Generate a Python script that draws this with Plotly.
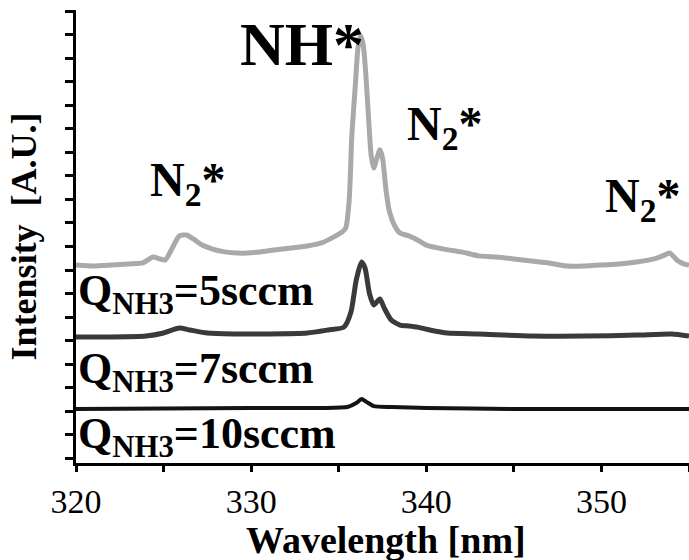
import plotly.graph_objects as go

# ---- data ----
wl_5 = [320, 321, 322, 323, 323.8, 324.4, 324.8, 325.1, 325.5, 325.9, 326.3, 326.7, 327.2, 327.8,
        328.5, 329.2, 329.8, 330.5, 331.3, 332.3, 333.2, 334.0, 334.7, 335.2, 335.4, 335.6, 335.75,
        335.95, 336.1, 336.25, 336.4, 336.55, 336.7, 336.85, 337.0, 337.15, 337.35, 337.5, 337.7,
        337.9, 338.2, 338.5, 339.0, 339.5, 340.0, 341, 342, 343, 344, 345, 346, 347, 348, 349, 350,
        351, 352, 353, 353.5, 353.9, 354.3, 354.7, 355]
int_5 = [8.21, 8.17, 8.21, 8.26, 8.30, 8.55, 8.47, 8.43, 8.94, 9.45, 9.49, 9.32, 9.06, 8.89,
         8.77, 8.72, 8.72, 8.77, 8.85, 8.94, 9.02, 9.15, 9.40, 9.62, 9.79, 10.98, 13.74,
         15.87, 17.45, 17.96, 17.57, 16.30, 14.51, 12.89, 12.34, 12.68, 13.11, 12.77, 11.40,
         10.47, 9.87, 9.57, 9.45, 9.28, 9.06, 8.89, 8.77, 8.60, 8.55, 8.47, 8.38, 8.30, 8.17, 8.17, 8.21,
         8.26, 8.34, 8.47, 8.60, 8.72, 8.43, 8.26, 8.21]

wl_7 = [320, 322, 324, 325, 325.9, 326.5, 327.5, 329, 331, 333.2, 334.4, 335.3, 335.7, 336.0,
        336.3, 336.5, 336.75, 337.0, 337.35, 337.6, 338.0, 338.5, 339.0, 339.5, 340.2, 341.2,
        343, 346, 349, 352, 354, 355]
int_7 = [5.15, 5.15, 5.19, 5.32, 5.53, 5.45, 5.32, 5.28, 5.28, 5.32, 5.45, 5.57, 6.21, 7.57,
         8.34, 8.09, 7.02, 6.51, 6.77, 6.38, 5.87, 5.66, 5.62, 5.57, 5.45, 5.32,
         5.28, 5.19, 5.19, 5.23, 5.28, 5.19]

wl_10 = [320, 325, 330, 334, 335.5, 336.0, 336.3, 336.6, 337.0, 338, 340, 345, 350, 355]
int_10 = [2.09, 2.11, 2.13, 2.13, 2.17, 2.34, 2.51, 2.38, 2.21, 2.17, 2.13, 2.09, 2.09, 2.09]

x_ticks = [320, 330, 340, 350]
x_tick_labels = ["320", "330", "340", "350"]

SERIF = "Liberation Serif, Times New Roman, serif"

fig = go.Figure()
fig.add_trace(go.Scatter(x=wl_5, y=int_5, mode="lines",
                         line=dict(color="#a9a9a9", width=5, shape="spline", smoothing=0.6),
                         name="5sccm", showlegend=False))
fig.add_trace(go.Scatter(x=wl_7, y=int_7, mode="lines",
                         line=dict(color="#3a3a3a", width=5, shape="spline", smoothing=0.6),
                         name="7sccm", showlegend=False))
fig.add_trace(go.Scatter(x=wl_10, y=int_10, mode="lines",
                         line=dict(color="#141414", width=4, shape="spline", smoothing=0.6),
                         name="10sccm", showlegend=False))

ann_font = dict(family=SERIF, color="black")
annotations = [
    dict(x=332.9, y=17.6, text="<b>NH*</b>", font=dict(size=62, **ann_font),
         xanchor="center", yanchor="middle", xref="x", yref="y"),
    dict(x=324.1, y=11.7, text="<b>N<sub>2</sub>*</b>", font=dict(size=48, **ann_font),
         xanchor="left", yanchor="middle", xref="x", yref="y"),
    dict(x=338.8, y=14.1, text="<b>N<sub>2</sub>*</b>", font=dict(size=48, **ann_font),
         xanchor="left", yanchor="middle", xref="x", yref="y"),
    dict(x=350.1, y=11.0, text="<b>N<sub>2</sub>*</b>", font=dict(size=48, **ann_font),
         xanchor="left", yanchor="middle", xref="x", yref="y"),
    dict(x=320.0, y=7.0, text="<b>Q<sub>NH3</sub>=5sccm</b>", font=dict(size=44, **ann_font),
         xanchor="left", yanchor="middle", xref="x", yref="y"),
    dict(x=320.0, y=3.7, text="<b>Q<sub>NH3</sub>=7sccm</b>", font=dict(size=44, **ann_font),
         xanchor="left", yanchor="middle", xref="x", yref="y"),
    dict(x=320.0, y=0.9, text="<b>Q<sub>NH3</sub>=10sccm</b>", font=dict(size=44, **ann_font),
         xanchor="left", yanchor="middle", xref="x", yref="y"),
    # axis titles
    dict(x=0.505, y=-0.17, text="<b>Wavelength [nm]</b>", font=dict(size=38, **ann_font),
         xanchor="center", yanchor="middle", xref="paper", yref="paper"),
    dict(x=-0.085, y=0.5, text="<b>Intensity  [A.U.]</b>", font=dict(size=36, **ann_font),
         textangle=-90, xanchor="center", yanchor="middle", xref="paper", yref="paper"),
]
for a in annotations:
    a.update(showarrow=False)

fig.update_layout(
    width=689, height=560,
    margin=dict(l=76, r=0, t=10, b=97),
    paper_bgcolor="white", plot_bgcolor="white",
    annotations=annotations,
    xaxis=dict(range=[320, 355], tickvals=x_ticks, ticktext=x_tick_labels,
               ticks="outside", ticklen=6, tickwidth=3, tickcolor="black",
               minor=dict(dtick=5, tick0=320, ticks="outside", ticklen=6, tickwidth=3, tickcolor="black"),
               showline=True, linecolor="black", linewidth=3, showgrid=False, zeroline=False,
               tickfont=dict(family=SERIF, size=34, color="black"), automargin=False),
    yaxis=dict(range=[-0.21, 19.06], dtick=1, tick0=0, showticklabels=False,
               ticks="outside", ticklen=8, tickwidth=3, tickcolor="black",
               showline=True, linecolor="black", linewidth=3, showgrid=False, zeroline=False,
               automargin=False),
)

fig.write_html("out.html", config={"displayModeBar": False},
               post_script="document.body.style.margin='0';document.body.style.overflow='hidden';")
